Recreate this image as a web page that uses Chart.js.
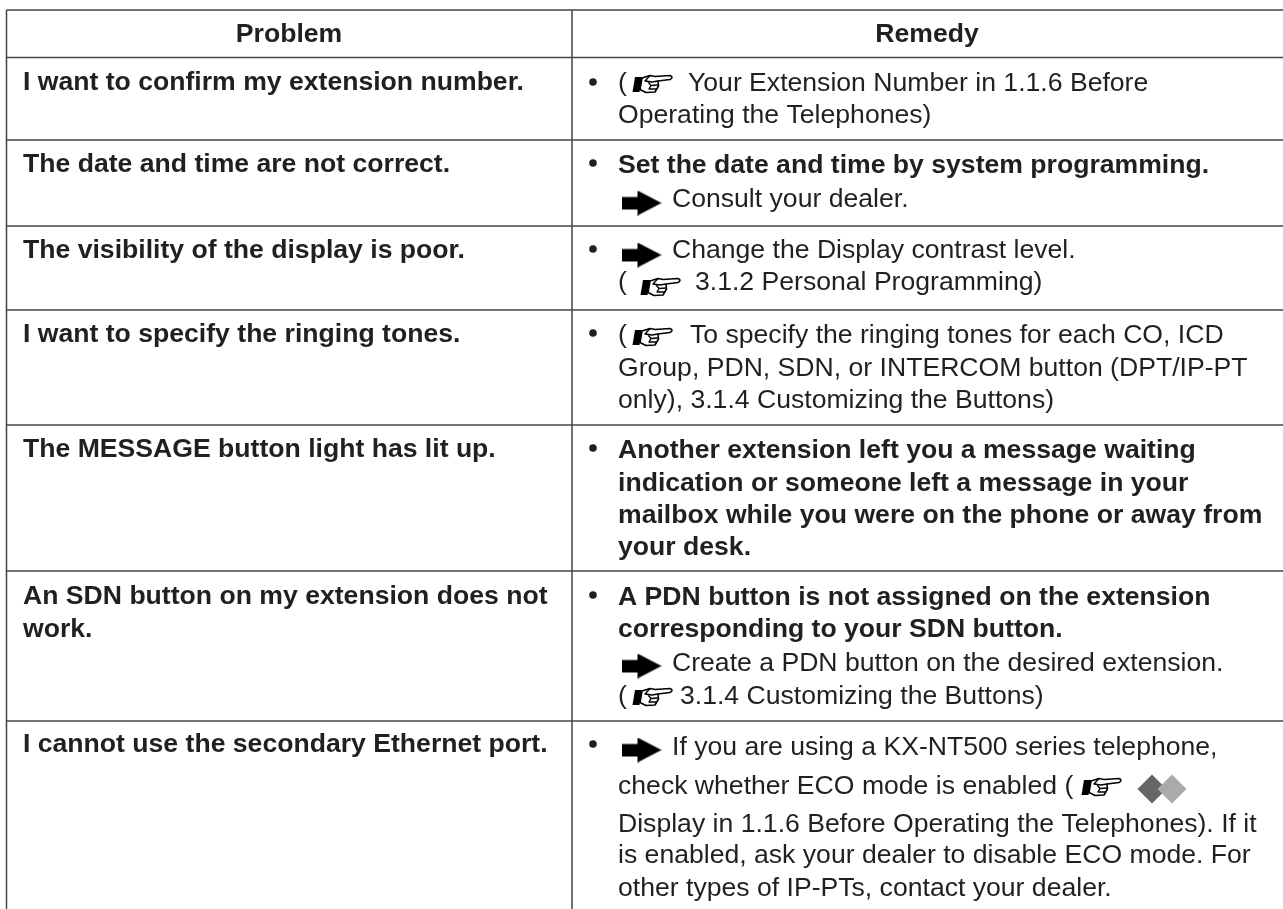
<!DOCTYPE html>
<html>
<head>
<meta charset="utf-8">
<title>Problem / Remedy</title>
<script src="https://cdn.jsdelivr.net/npm/chart.js@4"></script>
<style>
    html, body { margin: 0; padding: 0; background: #fff; }
    canvas { display: block; filter: blur(0.4px); }
</style>
</head>
<body>
<canvas id="table" width="1283" height="909"></canvas>
<script>
    // table text
    var headers = ['Problem', 'Remedy'];
    var problems = [
        'I want to confirm my extension number.',
        'The date and time are not correct.',
        'The visibility of the display is poor.',
        'I want to specify the ringing tones.',
        'The MESSAGE button light has lit up.',
        'An SDN button on my extension does not',
        'work.',
        'I cannot use the secondary Ethernet port.'
    ];
    var remedies = [
        '(',
        'Your Extension Number in 1.1.6 Before',
        'Operating the Telephones)',
        'Set the date and time by system programming.',
        'Consult your dealer.',
        'Change the Display contrast level.',
        '(',
        '3.1.2 Personal Programming)',
        '(',
        'To specify the ringing tones for each CO, ICD',
        'Group, PDN, SDN, or INTERCOM button (DPT/IP-PT',
        'only), 3.1.4 Customizing the Buttons)',
        'Another extension left you a message waiting',
        'indication or someone left a message in your',
        'mailbox while you were on the phone or away from',
        'your desk.',
        'A PDN button is not assigned on the extension',
        'corresponding to your SDN button.',
        'Create a PDN button on the desired extension.',
        '(',
        '3.1.4 Customizing the Buttons)',
        'If you are using a KX-NT500 series telephone,',
        'check whether ECO mode is enabled (',
        'Display in 1.1.6 Before Operating the Telephones). If it',
        'is enabled, ask your dealer to disable ECO mode. For',
        'other types of IP-PTs, contact your dealer.'
    ];
    var boldRemedies = [3, 12, 13, 14, 15, 16, 17];

    // where things sit (same units as the axes)
    var columnEdges = [6.5, 572];
    var rowEdges = [10, 57.5, 140, 226, 310, 425, 571, 721];
    var headerCenters = [289, 927];
    var headerBaseline = 42;
    var problemX = 23;
    var problemY = [90, 172, 258, 342, 457, 604, 637, 752];
    var remedyX = [618, 688, 618, 618, 672, 672, 618, 695, 618, 690, 618, 618, 618, 618, 618, 618, 618, 618, 672, 618, 680, 672, 618, 618, 618, 618];
    var remedyY = [91, 91, 123, 173, 207, 258, 290, 290, 343, 343, 376, 408, 458, 491, 523, 555, 605, 637, 671, 704, 704, 755, 794, 832, 863, 896];
    var bulletX = [593, 593, 593, 593, 593, 593, 593];
    var bulletY = [82, 163, 249, 333, 448, 595, 744];
    var arrowX = [641.5, 641.5, 641.5, 641.5];
    var arrowY = [203, 255, 666, 750];
    var handX = [653, 661, 653, 653, 1102];
    var handY = [84, 287, 337, 697, 787];
    var darkDiamondX = [1152];
    var lightDiamondX = [1172];
    var diamondY = [789];

    var textColor = '#231f20';
    var ruleColor = '#444444';
    var fontSize = 26.6;
    var fontFamily = '"Liberation Sans", Arial, sans-serif';

    function toPoints(xs, ys) {
        return xs.map(function (x, i) {
            return { x: x, y: ys[i] };
        });
    }

    function makeArrowIcon() {
        var c = document.createElement('canvas');
        c.width = 40;
        c.height = 25;
        var g = c.getContext('2d');
        g.fillStyle = '#000';
        g.beginPath();
        g.moveTo(0, 6.5);
        g.lineTo(16, 6.5);
        g.lineTo(16, 0);
        g.lineTo(40, 12.5);
        g.lineTo(16, 25);
        g.lineTo(16, 19);
        g.lineTo(0, 19);
        g.closePath();
        g.fill();
        return c;
    }

    function makeHandIcon() {
        var c = document.createElement('canvas');
        c.width = 42;
        c.height = 20;
        var g = c.getContext('2d');
        g.lineJoin = 'round';
        g.strokeStyle = '#000';
        g.fillStyle = '#000';
        // cuff
        g.beginPath();
        g.moveTo(3, 3);
        g.lineTo(10, 3);
        g.lineTo(7.5, 18);
        g.lineTo(0.5, 18);
        g.closePath();
        g.fill();
        // hand outline
        g.fillStyle = '#fff';
        g.lineWidth = 1.6;
        g.beginPath();
        g.moveTo(10, 4);
        g.lineTo(18, 1.5);
        g.lineTo(23, 2.5);
        g.lineTo(38, 1.5);
        g.quadraticCurveTo(42, 3, 38, 5.5);
        g.lineTo(26, 7);
        g.lineTo(26.5, 12);
        g.lineTo(23, 18);
        g.lineTo(14, 18.5);
        g.lineTo(8, 15.5);
        g.closePath();
        g.fill();
        g.stroke();
        // thumb and fingers
        g.lineWidth = 1.4;
        g.beginPath();
        g.moveTo(18, 1.5);
        g.lineTo(13, 7);
        g.lineTo(20, 8);
        g.lineTo(26, 7);
        g.moveTo(16, 8);
        g.lineTo(19, 11.5);
        g.lineTo(26, 11);
        g.moveTo(19, 11.5);
        g.lineTo(17, 15);
        g.lineTo(24.5, 15);
        g.stroke();
        return c;
    }

    // one line dataset per table rule, left/right ends come from the edges
    var tableRight = 1283;
    var tableBottom = 909;
    var ruleSets = rowEdges.map(function (y) {
        return [{ x: columnEdges[0], y: y }, { x: tableRight, y: y }];
    }).concat(columnEdges.map(function (x) {
        return [{ x: x, y: rowEdges[0] }, { x: x, y: tableBottom }];
    })).map(function (pts) {
        return {
            data: pts,
            showLine: true,
            borderColor: ruleColor,
            borderWidth: 1.5,
            pointRadius: 0
        };
    });

    var markSets = [
        { data: toPoints(bulletX, bulletY), pointStyle: 'circle', pointRadius: 3.8, backgroundColor: textColor, borderWidth: 0 },
        { data: toPoints(arrowX, arrowY), pointStyle: makeArrowIcon(), pointRadius: 20 },
        { data: toPoints(handX, handY), pointStyle: makeHandIcon(), pointRadius: 20 },
        { data: toPoints(darkDiamondX, diamondY), pointStyle: 'rectRot', pointRadius: 14.5, backgroundColor: '#666666', borderWidth: 0, order: 2 },
        { data: toPoints(lightDiamondX, diamondY), pointStyle: 'rectRot', pointRadius: 14.5, backgroundColor: '#aaaaaa', borderWidth: 0, order: 1 }
    ];

    // chart.js has no table text, so the cells are written through its scales
    var cellText = {
        id: 'cellText',
        afterDatasetsDraw: function (chart) {
            var ctx = chart.ctx;
            var sx = chart.scales.x;
            var sy = chart.scales.y;
            var bold = 'bold ' + fontSize + 'px ' + fontFamily;
            var normal = fontSize + 'px ' + fontFamily;

            ctx.save();
            ctx.fillStyle = textColor;
            ctx.textBaseline = 'alphabetic';

            ctx.font = bold;
            ctx.textAlign = 'center';
            headers.forEach(function (t, i) {
                ctx.fillText(t, sx.getPixelForValue(headerCenters[i]), sy.getPixelForValue(headerBaseline));
            });

            ctx.textAlign = 'left';
            problems.forEach(function (t, i) {
                ctx.fillText(t, sx.getPixelForValue(problemX), sy.getPixelForValue(problemY[i]));
            });

            remedies.forEach(function (t, i) {
                ctx.font = boldRemedies.indexOf(i) >= 0 ? bold : normal;
                ctx.fillText(t, sx.getPixelForValue(remedyX[i]), sy.getPixelForValue(remedyY[i]));
            });
            ctx.restore();
        }
    };

    new Chart(document.getElementById('table').getContext('2d'), {
        type: 'scatter',
        data: { datasets: ruleSets.concat(markSets) },
        plugins: [cellText],
        options: {
            responsive: false,
            animation: false,
            events: [],
            layout: { padding: 0, autoPadding: false },
            plugins: {
                legend: { display: false },
                tooltip: { enabled: false }
            },
            scales: {
                x: { type: 'linear', display: false, min: 0, max: 1283 },
                y: { type: 'linear', display: false, min: 0, max: 909, reverse: true }
            }
        }
    });
</script>
</body>
</html>
